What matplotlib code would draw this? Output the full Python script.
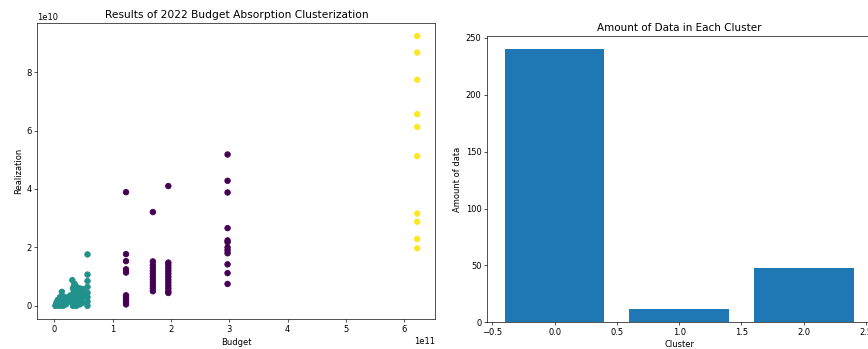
import numpy as np
import matplotlib
matplotlib.use("Agg")
import matplotlib.pyplot as plt

# cluster 1 (teal) - small budgets, values in 1e11 / 1e10 units
teal_budget = [0.02, 0.03, 0.05, 0.05, 0.07, 0.08, 0.09, 0.10, 0.11, 0.12, 0.13, 0.13,
               0.14, 0.15, 0.16, 0.17, 0.18, 0.19, 0.20, 0.21, 0.22, 0.06, 0.10, 0.04, 0.15,
               0.31, 0.32, 0.30, 0.31, 0.32, 0.33, 0.34, 0.35, 0.36, 0.36, 0.37, 0.38, 0.38,
               0.39, 0.40, 0.40, 0.41, 0.42, 0.43, 0.43, 0.44, 0.45, 0.46, 0.47, 0.48, 0.48,
               0.50, 0.50, 0.34, 0.45, 0.28, 0.27, 0.26,
               0.57, 0.57, 0.57, 0.57, 0.57, 0.57, 0.57, 0.57]
teal_real = [0.00, 0.05, 0.02, 0.10, 0.05, 0.15, 0.00, 0.08, 0.20, 0.12, 0.48, 0.30,
             0.05, 0.18, 0.25, 0.10, 0.30, 0.15, 0.05, 0.22, 0.12, 0.20, 0.30, 0.12, 0.00,
             0.88, 0.60, 0.30, 0.10, 0.00, 0.45, 0.20, 0.75, 0.55, 0.35, 0.10, 0.65, 0.00,
             0.40, 0.25, 0.55, 0.15, 0.45, 0.60, 0.30, 0.05, 0.50, 0.20, 0.40, 0.58, 0.10,
             0.30, 0.50, 0.70, 0.35, 0.15, 0.35, 0.25,
             1.76, 1.07, 0.85, 0.65, 0.45, 0.30, 0.15, 0.00]

# cluster 0 (purple) - middle budgets
purple_budget = [1.23] * 10 + [1.69] * 12 + [1.955] * 13 + [2.97] * 12
purple_real = [3.89, 1.77, 1.53, 1.25, 1.14, 0.36, 0.28, 0.20, 0.12, 0.05,
               3.21, 1.52, 1.40, 1.30, 1.20, 1.10, 1.00, 0.90, 0.80, 0.70, 0.60, 0.50,
               4.10, 1.48, 1.40, 1.30, 1.20, 1.10, 1.00, 0.90, 0.80, 0.70, 0.60, 0.50, 0.44,
               5.18, 4.28, 3.88, 2.66, 2.24, 2.18, 2.00, 1.90, 1.80, 1.42, 1.12, 0.75]

# cluster 2 (yellow) - largest budget
yellow_budget = [6.22] * 10
yellow_real = [9.23, 8.67, 7.74, 6.56, 6.12, 5.12, 3.16, 2.88, 2.29, 1.97]

clusters = [0, 1, 2]
counts = [240, 12, 48]

budget = np.array(purple_budget + teal_budget + yellow_budget) * 1e11
real = np.array(purple_real + teal_real + yellow_real) * 1e10
labels = [0] * len(purple_budget) + [1] * len(teal_budget) + [2] * len(yellow_budget)

fig = plt.figure(figsize=(868 / 60, 349 / 60), dpi=60)

ax1 = fig.add_axes([0.043, 0.085, 0.4585, 0.85])
ax1.scatter(budget, real, c=labels, cmap="viridis", s=44)
ax1.set_title("Results of 2022 Budget Absorption Clusterization", fontsize=12.8)
ax1.set_xlabel("Budget")
ax1.set_ylabel("Realization")

ax2 = fig.add_axes([0.5614, 0.0765, 0.4421, 0.8215])
ax2.bar(clusters, counts)
ax2.set_title("Amount of Data in Each Cluster", fontsize=12.4)
ax2.set_xlabel("Cluster")
ax2.set_ylabel("Amount of data")

fig.savefig("out.png", dpi=60)
